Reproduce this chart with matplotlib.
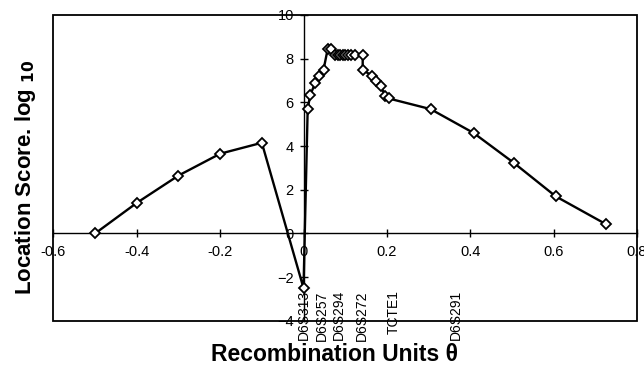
"""Location score vs recombination units, with marker positions along the x axis."""

import matplotlib

matplotlib.use("Agg")
import matplotlib.pyplot as plt
from matplotlib.patches import Rectangle

plt.rcParams["font.family"] = ["Liberation Sans", "DejaVu Sans"]

theta = [
    -0.5, -0.4, -0.3, -0.2, -0.1, 0.0,
    0.010, 0.016, 0.028, 0.038, 0.048, 0.058, 0.067,
    0.076, 0.082, 0.088, 0.094, 0.100, 0.106, 0.115, 0.123, 0.142,
    0.142, 0.164, 0.174, 0.185, 0.196, 0.204,
    0.305, 0.408, 0.504, 0.605, 0.727,
]
score = [
    0.0, 1.4, 2.65, 3.65, 4.15, -2.5,
    5.69, 6.33, 6.88, 7.2, 7.49, 8.44, 8.44,
    8.15, 8.15, 8.15, 8.15, 8.15, 8.15, 8.15, 8.15, 8.15,
    7.49, 7.22, 6.99, 6.76, 6.3, 6.18,
    5.69, 4.6, 3.24, 1.7, 0.41,
]

marker_names = ["D6S313", "D6S257", "D6S294", "D6S272", "TCTE1", "D6S291"]
marker_pos = [0.0, 0.043, 0.084, 0.14, 0.216, 0.365]

x_ticks = [-0.6, -0.4, -0.2, 0, 0.2, 0.4, 0.6, 0.8]
x_tick_labels = ["-0.6", "-0.4", "-0.2", "0", "0.2", "0.4", "0.6", "0.8"]
y_ticks = [-4, -2, 0, 2, 4, 6, 8, 10]


def main() -> None:
    fig = plt.figure(figsize=(6.44, 3.65), dpi=100)
    ax = fig.add_axes([0.083, 0.121, 0.906, 0.838])

    ax.plot(theta, score, color="black", lw=1.7, marker="D", ms=5.5,
            mfc="white", mec="black", mew=1.3, zorder=3)

    ax.set_xlim(-0.6, 0.8)
    ax.set_ylim(-4, 10)

    # axes crossing at the origin, plus an outer box
    ax.spines["left"].set_position(("data", 0))
    ax.spines["bottom"].set_position(("data", 0))
    ax.spines["top"].set_visible(False)
    ax.spines["right"].set_visible(False)
    for s in ("left", "bottom"):
        ax.spines[s].set_linewidth(1.0)
    ax.add_patch(Rectangle((0, 0), 1, 1, transform=ax.transAxes, fill=False,
                           lw=1.3, edgecolor="black", clip_on=False))

    ax.set_xticks(x_ticks)
    ax.set_xticklabels(x_tick_labels)
    ax.set_yticks(y_ticks)
    ax.tick_params(axis="both", direction="inout", length=6, width=1,
                   labelsize=10.5, colors="black")
    ax.tick_params(axis="x", pad=5)
    ax.tick_params(axis="y", pad=4)

    for name, pos in zip(marker_names, marker_pos):
        ax.text(pos, -2.6, name, rotation=90, ha="center", va="top",
                fontsize=10, clip_on=False)

    fig.text(0.52, 0.03, "Recombination Units θ", ha="center", va="center",
             fontsize=16.5, fontweight="bold")
    fig.text(0.04, 0.515, r"Location Score. log $_{\mathbf{10}}$", rotation=90,
             ha="center", va="center", fontsize=16, fontweight="bold")

    fig.savefig("out.png", dpi=100)


if __name__ == "__main__":
    main()
